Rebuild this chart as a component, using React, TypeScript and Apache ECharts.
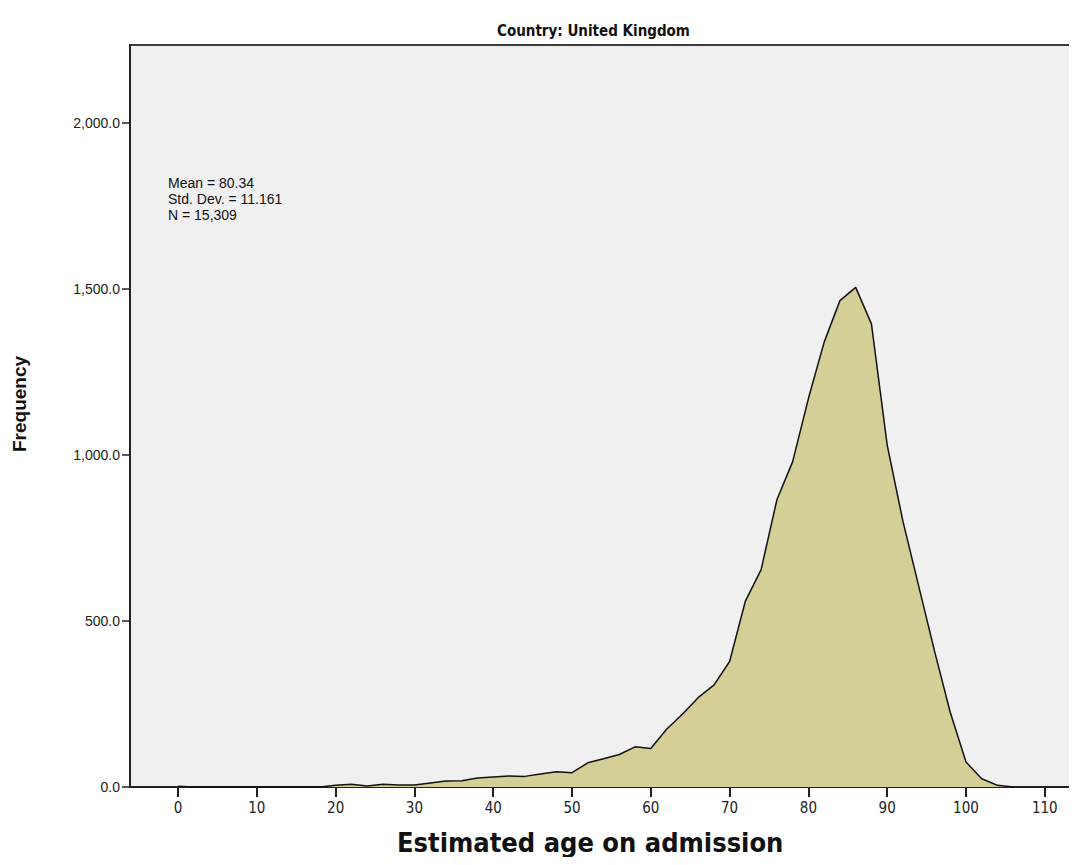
import React, { useEffect, useRef } from "react";
import * as echarts from "echarts";

const ages = [0, 2, 4, 6, 8, 10, 12, 14, 16, 18, 20, 22, 24, 26, 28, 30, 32, 34, 36, 38, 40, 42, 44, 46, 48, 50, 52, 54, 56, 58, 60, 62, 64, 66, 68, 70, 72, 74, 76, 78, 80, 82, 84, 86, 88, 90, 92, 94, 96, 98, 100, 102, 104, 106];
const frequency = [2, 0, 0, 0, 0, 0, 0, 0, 0, 0, 5, 8, 3, 8, 6, 6, 12, 18, 19, 27, 30, 33, 32, 39, 46, 43, 73, 85, 98, 121, 116, 174, 219, 269, 307, 378, 560, 655, 865, 980, 1170, 1340, 1465, 1505, 1395, 1030, 800, 605, 410, 225, 75, 25, 5, 0];
const xTicks = [0, 10, 20, 30, 40, 50, 60, 70, 80, 90, 100, 110];
const statsLines = ["Mean = 80.34", "Std. Dev. = 11.161", "N = 15,309"];
const titleText = "Country: United Kingdom";
const xLabel = "Estimated age on admission";
const yLabel = "Frequency";

const narrow = "'Liberation Sans Narrow', 'DejaVu Sans Condensed', 'Roboto', sans-serif";
const arial = "'Liberation Sans', Arial, sans-serif";

export default function App() {
  const ref = useRef<HTMLDivElement>(null);
  useEffect(() => {
    const chart = echarts.init(ref.current!, null, { renderer: "svg" });
    chart.setOption({
      animation: false,
      backgroundColor: "#ffffff",
      grid: {
        left: 130,
        top: 45,
        right: 7,
        bottom: 78,
        show: true,
        backgroundColor: "#f0f0f0",
        borderColor: "#3a3a3a",
        borderWidth: 2,
      },
      xAxis: {
        type: "value",
        min: -6.1,
        max: 113.2,
        splitLine: { show: false },
        axisLine: { show: true, onZero: false, lineStyle: { color: "#222", width: 2 } },
        axisTick: {
          show: true,
          customValues: xTicks,
          length: 10,
          lineStyle: { color: "#222", width: 2 },
        },
        axisLabel: {
          customValues: xTicks,
          color: "#222",
          fontFamily: narrow,
          fontSize: 15,
          margin: 13,
        },
      },
      yAxis: {
        type: "value",
        min: 0,
        max: 2235,
        interval: 500,
        splitLine: { show: false },
        axisLine: { show: true, onZero: false, lineStyle: { color: "#222", width: 2 } },
        axisTick: { show: true, length: 8, lineStyle: { color: "#222", width: 1.5 } },
        axisLabel: {
          color: "#222",
          fontFamily: arial,
          fontSize: 14,
          margin: 10,
          showMaxLabel: false,
          formatter: (v: number) =>
            v % 500 === 0
              ? v.toLocaleString("en-US", { minimumFractionDigits: 1, maximumFractionDigits: 1 })
              : "",
        },
      },
      series: [
        {
          type: "line",
          data: ages.map((a, i) => [a, frequency[i]]),
          symbol: "none",
          lineStyle: { color: "#111", width: 1.5 },
          areaStyle: { color: "#d3cf96", opacity: 1 },
          z: 2,
        },
      ],
      graphic: [
        {
          type: "text",
          left: 497,
          top: 23,
          style: { text: titleText, font: `bold 15px ${narrow}`, fill: "#111" },
        },
        {
          type: "text",
          left: 397,
          top: 829,
          style: { text: xLabel, font: `bold 27px ${narrow}`, fill: "#111" },
        },
        {
          type: "text",
          x: 10,
          y: 404,
          rotation: Math.PI / 2,
          style: {
            text: yLabel,
            font: `bold 19px ${arial}`,
            fill: "#111",
            align: "center",
            verticalAlign: "top",
          },
        },
        {
          type: "text",
          left: 168,
          top: 175,
          style: {
            text: statsLines.join("\n"),
            font: `14px ${arial}`,
            lineHeight: 16,
            fill: "#111",
          },
        },
      ],
    });
    return () => chart.dispose();
  }, []);
  return <div ref={ref} style={{ width: 1077, height: 865, margin: -8 }} />;
}
